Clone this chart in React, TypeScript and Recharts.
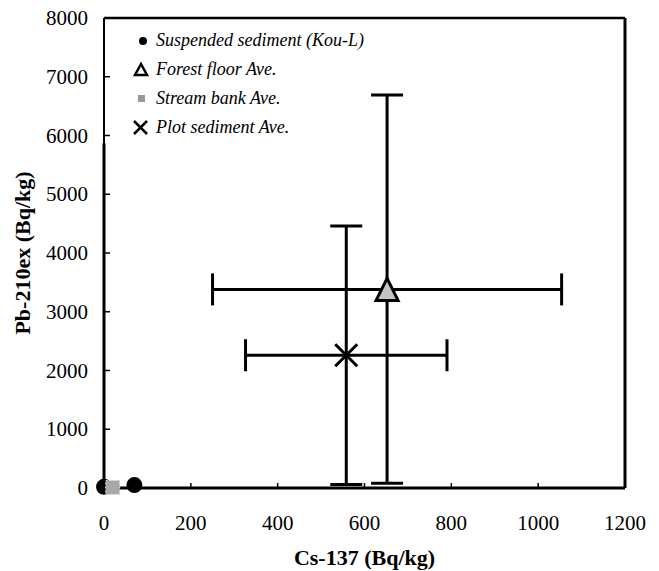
import { ScatterChart, Scatter, XAxis, YAxis, ErrorBar, ReferenceLine, Legend, Label } from "recharts"

const serif = "'Liberation Serif', 'DejaVu Serif', serif"

const xTicks = [0, 200, 400, 600, 800, 1000, 1200]
const yTicks = [0, 1000, 2000, 3000, 4000, 5000, 6000, 7000, 8000]

// Suspended sediment (Kou-L)
const suspendedCs = [70, 0]
const suspendedPb = [50, 20]
const suspendedPbErr = [[0, 0], [20, 5850]]

// Stream bank Ave.
const bankCs = [20]
const bankPb = [10]

// Forest floor Ave.
const forestCs = [652]
const forestPb = [3380]
const forestCsErr = [402]
const forestPbErr = [[3300, 3310]]

// Plot sediment Ave.
const plotCs = [558]
const plotPb = [2260]
const plotCsErr = [232]
const plotPbErr = [[2200, 2200]]

const suspended = suspendedCs.map((x, i) => ({ x, y: suspendedPb[i], ey: suspendedPbErr[i] }))
const bank = bankCs.map((x, i) => ({ x, y: bankPb[i] }))
const forest = forestCs.map((x, i) => ({ x, y: forestPb[i], ex: forestCsErr[i], ey: forestPbErr[i] }))
const plot = plotCs.map((x, i) => ({ x, y: plotPb[i], ex: plotCsErr[i], ey: plotPbErr[i] }))

const NoDot = () => <g />
const CircleDot = (p: any) => <circle cx={p.cx} cy={p.cy} r={8} fill="#000" />
const SquareDot = (p: any) => (
  <rect x={p.cx - 7} y={p.cy - 7} width={14} height={14} fill="#a8a8a8" stroke="#ddd" strokeWidth={1} strokeDasharray="2 2" />
)
const TriangleDot = (p: any) => (
  <polygon
    points={`${p.cx},${p.cy - 11} ${p.cx - 11},${p.cy + 11} ${p.cx + 11},${p.cy + 11}`}
    fill="#c4c4c4"
    stroke="#000"
    strokeWidth={3}
  />
)
const CrossDot = (p: any) => (
  <g stroke="#000" strokeWidth={3}>
    <line x1={p.cx - 11} y1={p.cy - 11} x2={p.cx + 11} y2={p.cy + 11} />
    <line x1={p.cx - 11} y1={p.cy + 11} x2={p.cx + 11} y2={p.cy - 11} />
  </g>
)

const tickStyle = { fontFamily: serif, fontSize: 21, fill: "#000" }

const XTick = (p: any) => (
  <text x={p.x} y={p.y} textAnchor="middle" dominantBaseline="hanging" style={tickStyle}>
    {p.payload.value}
  </text>
)
const YTick = (p: any) => (
  <text x={p.x} y={p.y} textAnchor="end" dominantBaseline="central" style={tickStyle}>
    {p.payload.value}
  </text>
)

const legendRows = [
  { name: "Suspended sediment (Kou-L)", icon: <circle cx={12} cy={10} r={4} fill="#000" /> },
  {
    name: "Forest floor Ave.",
    icon: <polygon points="10,4 4,15 16,15" fill="#fff" stroke="#000" strokeWidth={2.5} />,
  },
  { name: "Stream bank Ave.", icon: <rect x={7} y={6} width={7} height={7} fill="#999" /> },
  {
    name: "Plot sediment Ave.",
    icon: (
      <g stroke="#000" strokeWidth={2.5}>
        <line x1={3} y1={3} x2={16} y2={16} />
        <line x1={3} y1={16} x2={16} y2={3} />
      </g>
    ),
  },
]

function LegendBox() {
  return (
    <div style={{ fontFamily: serif, fontStyle: "italic", fontSize: 18, color: "#000" }}>
      {legendRows.map((r) => (
        <div key={r.name} style={{ display: "flex", alignItems: "center", height: 29 }}>
          <svg width={20} height={20} style={{ marginRight: 5 }}>
            {r.icon}
          </svg>
          <span>{r.name}</span>
        </div>
      ))}
    </div>
  )
}

export default function App() {
  return (
    <div style={{ position: "absolute", left: 0, top: 0, background: "#fff", fontFamily: serif }}>
      <ScatterChart width={659} height={571} margin={{ top: 18, right: 34, bottom: 0, left: 0 }}>
        <XAxis
          type="number"
          dataKey="x"
          domain={[0, 1200]}
          ticks={xTicks}
          height={83}
          stroke="#000"
          strokeWidth={3}
          tickSize={-5}
          tickMargin={32}
          tick={XTick}
          tickLine={{ stroke: "#000", strokeWidth: 1.5 }}
        >
          <Label
            value="Cs-137 (Bq/kg)"
            position="insideBottom"
            offset={6}
            style={{ fontFamily: serif, fontSize: 22, fontWeight: "bold", fill: "#000" }}
          />
        </XAxis>
        <YAxis
          type="number"
          dataKey="y"
          domain={[0, 8000]}
          ticks={yTicks}
          width={104}
          stroke="#000"
          strokeWidth={2}
          tickSize={-6}
          tickMargin={22}
          tick={YTick}
          tickLine={{ stroke: "#000", strokeWidth: 1.5 }}
        >
          <Label
            content={(props: any) => {
              const vb = props.viewBox
              const cx = 22
              const cy = vb.y + vb.height / 2
              return (
                <text
                  x={cx}
                  y={cy}
                  transform={`rotate(-90 ${cx} ${cy})`}
                  textAnchor="middle"
                  dominantBaseline="central"
                  style={{ fontFamily: serif, fontSize: 22, fontWeight: "bold", fill: "#000" }}
                >
                  Pb-210ex (Bq/kg)
                </text>
              )
            }}
          />
        </YAxis>
        <ReferenceLine y={8000} stroke="#000" strokeWidth={2.5} />
        <ReferenceLine x={1200} stroke="#000" strokeWidth={3} />
        <Legend
          layout="vertical"
          align="center"
          verticalAlign="middle"
          content={() => <LegendBox />}
          wrapperStyle={{ top: 26, left: 131, width: 320 }}
        />
        {/* error bars first so the markers sit on top of them */}
        <Scatter data={suspended} shape={NoDot} legendType="none" isAnimationActive={false}>
          <ErrorBar dataKey="ey" direction="y" width={0} stroke="#000" strokeWidth={3} />
        </Scatter>
        <Scatter data={forest} shape={NoDot} legendType="none" isAnimationActive={false}>
          <ErrorBar dataKey="ex" direction="x" width={16} stroke="#000" strokeWidth={3} />
          <ErrorBar dataKey="ey" direction="y" width={16} stroke="#000" strokeWidth={3} />
        </Scatter>
        <Scatter data={plot} shape={NoDot} legendType="none" isAnimationActive={false}>
          <ErrorBar dataKey="ex" direction="x" width={16} stroke="#000" strokeWidth={3} />
          <ErrorBar dataKey="ey" direction="y" width={16} stroke="#000" strokeWidth={3} />
        </Scatter>
        <Scatter name="Suspended sediment (Kou-L)" data={suspended} shape={CircleDot} isAnimationActive={false} />
        <Scatter name="Forest floor Ave." data={forest} shape={TriangleDot} isAnimationActive={false} />
        <Scatter name="Stream bank Ave." data={bank} shape={SquareDot} isAnimationActive={false} />
        <Scatter name="Plot sediment Ave." data={plot} shape={CrossDot} isAnimationActive={false} />
      </ScatterChart>
    </div>
  )
}
